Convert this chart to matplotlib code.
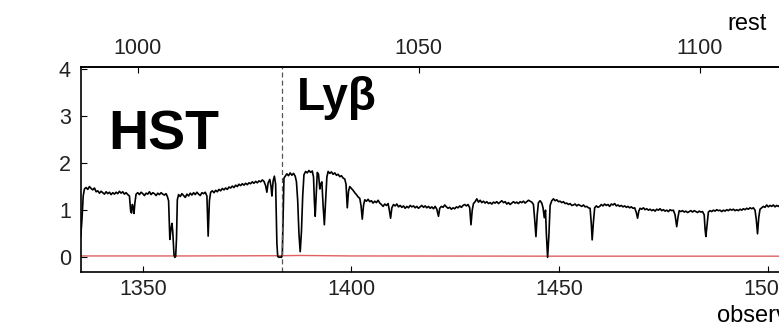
import matplotlib.pyplot as plt
import numpy as np

plt.rcParams['font.family'] = ['Liberation Sans', 'DejaVu Sans']

# observed wavelength (A) and normalised flux
wave = [1335.1, 1335.4, 1335.7, 1336.0, 1336.4, 1336.8, 1337.2, 1337.6, 1338.0, 1338.4,
        1338.8, 1339.2, 1339.6, 1340.0, 1340.4, 1340.8, 1341.2, 1341.6, 1342.0, 1342.4,
        1342.8, 1343.2, 1343.6, 1344.0, 1344.4, 1344.8, 1345.2, 1345.6, 1346.0, 1346.4,
        1346.8, 1347.1, 1347.3, 1347.5, 1347.7, 1347.9, 1348.1, 1348.4, 1348.8, 1349.2,
        1349.6, 1350.0, 1350.4, 1350.8, 1351.2, 1351.6, 1352.0, 1352.4, 1352.8, 1353.2,
        1353.6, 1354.0, 1354.4, 1354.8, 1355.2, 1355.6, 1355.9, 1356.2, 1356.5, 1356.8,
        1357.0, 1357.2, 1357.5, 1357.7, 1357.9, 1358.1, 1358.3, 1358.6, 1359.0, 1359.4,
        1359.8, 1360.2, 1360.6, 1361.0, 1361.4, 1361.8, 1362.2, 1362.6, 1363.0, 1363.4,
        1363.8, 1364.2, 1364.6, 1365.0, 1365.4, 1365.7, 1366.0, 1366.3, 1366.7, 1367.1,
        1367.5, 1367.9, 1368.3, 1368.7, 1369.1, 1369.5, 1369.9, 1370.3, 1370.7, 1371.1,
        1371.5, 1371.9, 1372.3, 1372.7, 1373.1, 1373.5, 1373.9, 1374.3, 1374.7, 1375.1,
        1375.5, 1375.9, 1376.3, 1376.7, 1377.1, 1377.5, 1377.9, 1378.3, 1378.7, 1379.1,
        1379.5, 1379.8, 1380.1, 1380.5, 1380.8, 1381.0, 1381.3, 1381.6, 1381.9, 1382.2,
        1382.4, 1382.7, 1383.0, 1383.3, 1383.5, 1383.7, 1383.9, 1384.2, 1384.6, 1385.0,
        1385.4, 1385.8, 1386.2, 1386.6, 1386.9, 1387.2, 1387.5, 1387.8, 1388.1, 1388.4,
        1388.7, 1389.1, 1389.5, 1389.9, 1390.3, 1390.7, 1391.0, 1391.2, 1391.4, 1391.6,
        1391.9, 1392.2, 1392.5, 1392.7, 1393.0, 1393.3, 1393.6, 1393.9, 1394.2, 1394.5,
        1394.9, 1395.3, 1395.7, 1396.1, 1396.5, 1396.9, 1397.3, 1397.7, 1398.1, 1398.5,
        1398.8, 1399.1, 1399.4, 1399.7, 1400.1, 1400.5, 1400.9, 1401.3, 1401.7, 1402.1,
        1402.4, 1402.7, 1403.0, 1403.3, 1403.7, 1404.1, 1404.5, 1404.9, 1405.3, 1405.7,
        1406.1, 1406.5, 1406.9, 1407.3, 1407.7, 1408.1, 1408.5, 1408.9, 1409.2, 1409.5,
        1409.8, 1410.2, 1410.6, 1411.0, 1411.4, 1411.8, 1412.2, 1412.6, 1413.0, 1413.4,
        1413.8, 1414.2, 1414.6, 1415.0, 1415.4, 1415.8, 1416.2, 1416.6, 1417.0, 1417.4,
        1417.8, 1418.2, 1418.6, 1419.0, 1419.4, 1419.8, 1420.2, 1420.6, 1421.0, 1421.3,
        1421.7, 1422.1, 1422.5, 1422.9, 1423.3, 1423.7, 1424.1, 1424.5, 1424.9, 1425.3,
        1425.7, 1426.1, 1426.5, 1426.9, 1427.3, 1427.7, 1428.1, 1428.5, 1428.8, 1429.1,
        1429.4, 1429.8, 1430.2, 1430.6, 1431.0, 1431.4, 1431.8, 1432.2, 1432.6, 1433.0,
        1433.4, 1433.8, 1434.2, 1434.6, 1435.0, 1435.4, 1435.8, 1436.2, 1436.6, 1437.0,
        1437.4, 1437.8, 1438.2, 1438.6, 1439.0, 1439.4, 1439.8, 1440.2, 1440.6, 1441.0,
        1441.4, 1441.8, 1442.2, 1442.6, 1443.0, 1443.4, 1443.8, 1444.1, 1444.4, 1444.7,
        1445.0, 1445.4, 1445.8, 1446.1, 1446.4, 1446.7, 1446.9, 1447.2, 1447.5, 1447.8,
        1448.2, 1448.6, 1449.0, 1449.4, 1449.8, 1450.2, 1450.6, 1451.0, 1451.4, 1451.8,
        1452.2, 1452.6, 1453.0, 1453.4, 1453.8, 1454.2, 1454.6, 1455.0, 1455.4, 1455.8,
        1456.2, 1456.6, 1457.0, 1457.4, 1457.7, 1457.9, 1458.2, 1458.5, 1458.9, 1459.3,
        1459.7, 1460.1, 1460.5, 1460.9, 1461.3, 1461.7, 1462.1, 1462.5, 1462.9, 1463.3,
        1463.7, 1464.1, 1464.5, 1464.9, 1465.3, 1465.7, 1466.1, 1466.5, 1466.9, 1467.3,
        1467.7, 1468.1, 1468.5, 1468.8, 1469.1, 1469.4, 1469.8, 1470.2, 1470.6, 1471.0,
        1471.4, 1471.8, 1472.2, 1472.6, 1473.0, 1473.4, 1473.8, 1474.2, 1474.6, 1475.0,
        1475.4, 1475.8, 1476.2, 1476.6, 1477.0, 1477.4, 1477.8, 1478.2, 1478.5, 1478.8,
        1479.2, 1479.6, 1480.0, 1480.4, 1480.8, 1481.2, 1481.6, 1482.0, 1482.4, 1482.8,
        1483.2, 1483.6, 1484.0, 1484.4, 1484.8, 1485.0, 1485.2, 1485.5, 1485.8, 1486.2,
        1486.6, 1487.0, 1487.4, 1487.8, 1488.2, 1488.6, 1489.0, 1489.4, 1489.8, 1490.2,
        1490.6, 1491.0, 1491.4, 1491.8, 1492.2, 1492.6, 1493.0, 1493.4, 1493.8, 1494.2,
        1494.6, 1495.0, 1495.4, 1495.8, 1496.2, 1496.6, 1497.0, 1497.3, 1497.6, 1497.9,
        1498.2, 1498.6, 1499.0, 1499.4, 1499.8, 1500.2, 1500.6, 1501.0, 1501.4, 1501.8,
        1502.2, 1502.6, 1503.0, 1503.4, 1503.8]
flux = [0.44, 0.80, 1.30, 1.45, 1.48, 1.44, 1.50, 1.46, 1.43, 1.47,
        1.39, 1.41, 1.36, 1.40, 1.37, 1.34, 1.39, 1.35, 1.38, 1.33,
        1.37, 1.34, 1.38, 1.35, 1.40, 1.36, 1.39, 1.34, 1.37, 1.33,
        1.30, 0.98, 0.94, 1.12, 1.05, 0.93, 1.15, 1.34, 1.37, 1.33,
        1.38, 1.35, 1.31, 1.36, 1.34, 1.39, 1.33, 1.37, 1.35, 1.31,
        1.36, 1.33, 1.37, 1.34, 1.32, 1.35, 1.29, 1.20, 0.38, 0.62,
        0.72, 0.55, 0.05, 0.00, 0.02, 0.40, 1.22, 1.33, 1.29, 1.35,
        1.31, 1.27, 1.34, 1.30, 1.36, 1.32, 1.37, 1.33, 1.38, 1.34,
        1.31, 1.37, 1.35, 1.38, 1.30, 0.45, 1.20, 1.38, 1.41, 1.37,
        1.42, 1.39, 1.44, 1.41, 1.46, 1.43, 1.47, 1.44, 1.49, 1.47,
        1.51, 1.48, 1.53, 1.50, 1.55, 1.52, 1.56, 1.53, 1.57, 1.54,
        1.58, 1.56, 1.60, 1.57, 1.61, 1.58, 1.62, 1.60, 1.64, 1.61,
        1.52, 1.38, 1.58, 1.65, 1.50, 1.30, 1.62, 1.72, 1.55, 0.30,
        0.02, 0.00, 0.01, 0.00, 0.05, 0.90, 1.68, 1.72, 1.77, 1.73,
        1.79, 1.74, 1.78, 1.72, 1.60, 1.20, 0.50, 0.12, 0.55, 1.30,
        1.75, 1.82, 1.79, 1.84, 1.80, 1.83, 1.70, 1.20, 0.87, 1.25,
        1.80, 1.76, 1.45, 1.55, 1.60, 1.10, 0.69, 1.20, 1.70, 1.82,
        1.78, 1.81, 1.76, 1.79, 1.74, 1.76, 1.71, 1.73, 1.68, 1.66,
        1.55, 1.05, 1.40, 1.50, 1.46, 1.42, 1.37, 1.33, 1.28, 1.25,
        1.10, 0.81, 1.10, 1.22, 1.19, 1.23, 1.18, 1.20, 1.15, 1.19,
        1.16, 1.21, 1.15, 1.12, 1.08, 1.13, 1.10, 1.14, 1.00, 0.83,
        1.05, 1.12, 1.09, 1.13, 1.07, 1.10, 1.06, 1.09, 1.04, 1.08,
        1.05, 1.10, 1.07, 1.09, 1.05, 1.08, 1.04, 1.07, 1.10, 1.06,
        1.09, 1.05, 1.08, 1.04, 1.07, 1.03, 1.08, 1.02, 0.87, 1.04,
        1.08, 1.06, 1.11, 1.07, 1.04, 1.06, 1.02, 1.05, 1.03, 1.07,
        1.05, 1.09, 1.06, 1.10, 1.12, 1.09, 1.12, 1.05, 0.69, 1.00,
        1.14, 1.18, 1.24, 1.17, 1.21, 1.16, 1.19, 1.15, 1.18, 1.14,
        1.16, 1.13, 1.17, 1.15, 1.18, 1.14, 1.17, 1.20, 1.16, 1.18,
        1.13, 1.16, 1.12, 1.15, 1.18, 1.15, 1.17, 1.14, 1.18, 1.16,
        1.19, 1.15, 1.18, 1.21, 1.19, 1.17, 1.12, 0.80, 0.44, 0.90,
        1.16, 1.20, 1.15, 1.05, 0.84, 1.00, 0.50, 0.00, 0.45, 1.10,
        1.20, 1.24, 1.20, 1.22, 1.18, 1.19, 1.16, 1.18, 1.14, 1.15,
        1.12, 1.14, 1.10, 1.11, 1.13, 1.09, 1.12, 1.10, 1.08, 1.11,
        1.07, 1.08, 1.05, 1.04, 0.70, 0.37, 0.75, 1.05, 1.09, 1.06,
        1.08, 1.12, 1.09, 1.13, 1.10, 1.12, 1.08, 1.13, 1.11, 1.14,
        1.09, 1.11, 1.08, 1.10, 1.07, 1.09, 1.06, 1.08, 1.05, 1.07,
        1.04, 1.05, 0.95, 0.83, 0.98, 1.04, 1.02, 1.05, 1.01, 1.03,
        1.00, 1.02, 0.99, 1.01, 0.98, 1.02, 1.00, 1.03, 0.99, 1.01,
        0.98, 1.00, 0.97, 1.01, 0.99, 1.00, 0.90, 0.65, 0.85, 0.99,
        0.97, 0.99, 0.96, 0.98, 0.95, 0.97, 0.99, 0.96, 0.99, 0.97,
        0.95, 0.98, 0.96, 0.97, 0.90, 0.60, 0.44, 0.70, 0.96, 0.99,
        0.97, 1.00, 0.98, 1.01, 0.99, 1.00, 0.97, 1.00, 0.98, 1.01,
        0.99, 1.02, 1.00, 1.02, 0.99, 1.01, 0.99, 1.02, 1.00, 1.03,
        1.01, 1.04, 1.02, 1.05, 1.03, 1.05, 1.00, 0.80, 0.50, 0.85,
        1.02, 1.05, 1.08, 1.06, 1.11, 1.07, 1.10, 1.08, 1.11, 1.07,
        1.10, 1.08, 1.11, 1.09, 1.10]

# error spectrum (red)
err_wave = [1335.1, 1360, 1383, 1388, 1400, 1450, 1504]
err_flux = [0.03, 0.03, 0.035, 0.04, 0.03, 0.025, 0.025]

one_plus_z = 1.3488
lyb_rest = 1025.72
rest_ticks = [1000, 1050, 1100]
obs_ticks = [1350, 1400, 1450, 1500]

fig = plt.figure(figsize=(7.79, 3.25), dpi=100)
ax = fig.add_axes([0.1036, 0.1631, 0.9886, 0.6317])

ax.plot(err_wave, err_flux, color='#e06060', lw=1.0)
ax.plot(wave, flux, color='black', lw=1.2)
ax.axvline(lyb_rest * one_plus_z, color='#555555', lw=0.9, ls=(0, (4, 2.5)))

ax.set_xlim(1335.1, 1520)
ax.set_ylim(-0.31, 4.04)
ax.set_xticks(obs_ticks)
ax.set_yticks([0, 1, 2, 3, 4])
ax.tick_params(direction='in', length=4.5, width=0.8, labelsize=15.5,
               labelcolor='#222222', pad=7)
ax.tick_params(axis='x', top=False, pad=5)
for s in ax.spines.values():
    s.set_linewidth(1.2)
ax.spines['right'].set_visible(False)

sec = ax.secondary_xaxis('top', functions=(lambda x: x / one_plus_z,
                                            lambda x: x * one_plus_z))
sec.set_xticks(rest_ticks)
sec.tick_params(direction='in', length=4.5, width=0.8, labelsize=15.5,
                labelcolor='#222222', pad=5.5)
sec.spines['top'].set_linewidth(1.2)

fig.text(108.3 / 779, 1 - 150 / 325, 'HST', fontsize=40, fontweight='bold',
         va='baseline', ha='left')
fig.text(296.7 / 779, 1 - 110 / 325, 'Lyβ', fontsize=33, fontweight='bold',
         va='baseline', ha='left')
fig.text(727 / 779, 1 - 29.5 / 325, 'rest', fontsize=17, va='baseline', ha='left')
fig.text(717 / 779, 1 - 322 / 325, 'observed', fontsize=17, va='baseline', ha='left')

fig.savefig('out.png', dpi=100)
